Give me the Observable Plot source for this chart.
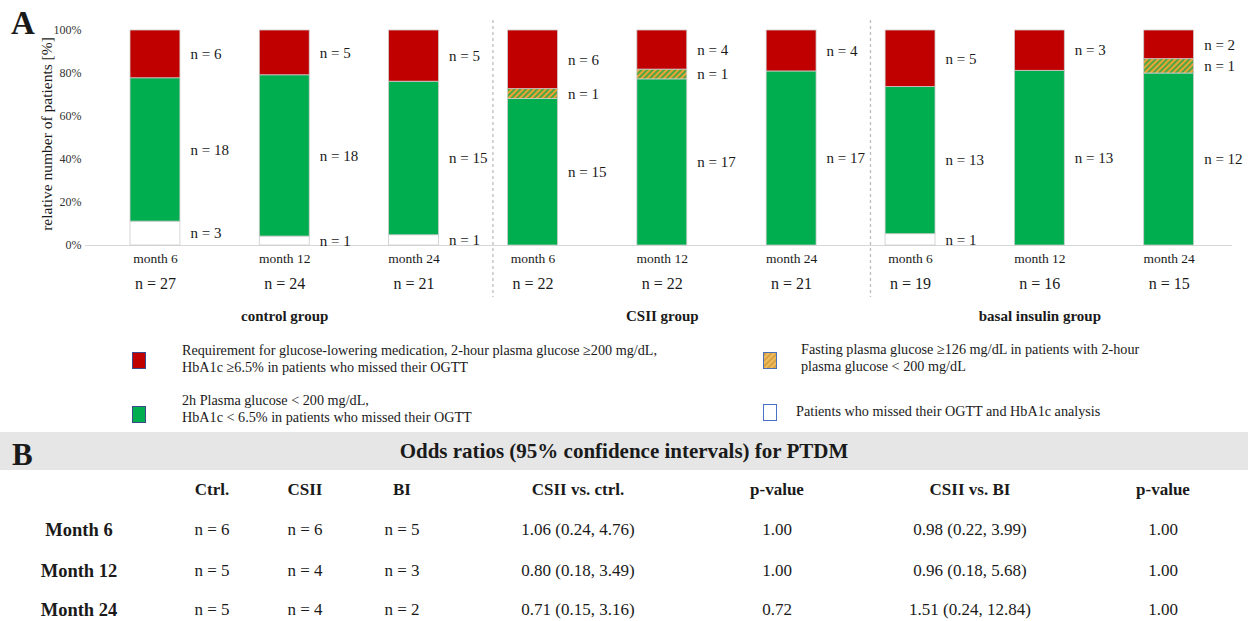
<!DOCTYPE html>
<html><head><meta charset="utf-8">
<script src="https://cdn.jsdelivr.net/npm/d3@7"></script>
<script src="https://cdn.jsdelivr.net/npm/@observablehq/plot@0.6"></script>
<style>
html,body{margin:0;padding:0;background:#fff;}
#root{position:relative;width:1248px;height:621px;overflow:hidden;font-family:"Liberation Serif","Times New Roman",serif;color:#1a1a1a;}
.abs{position:absolute;white-space:nowrap;}
</style></head><body>
<div id="root">
<svg width="0" height="0" style="position:absolute;left:0;top:0"><defs>
<pattern id="hatch" patternUnits="userSpaceOnUse" width="4" height="4" patternTransform="rotate(45)"><rect width="4" height="4" fill="#4ea743"/><rect width="2" height="4" fill="#eda236"/></pattern>
<pattern id="hatchLegend" patternUnits="userSpaceOnUse" width="4" height="4" patternTransform="rotate(45)"><rect width="4" height="4" fill="#d9a043"/><rect width="1.6" height="4" fill="#f0c462"/></pattern>
</defs></svg>
<div id="chart" class="abs" style="left:0;top:0"></div>
<div class="abs" style="left:11px;top:7px;font-size:33px;font-weight:bold;line-height:1;">A</div>
<div id="legend"></div>
<div class="abs" style="left:0;top:432px;width:1248px;height:38px;background:#e6e6e6;"></div>
<div class="abs" style="left:12px;top:439px;font-size:31px;font-weight:bold;line-height:1;">B</div>
<div id="tableTitle" class="abs" style="left:0;width:1248px;top:439px;line-height:24px;font-size:21px;font-weight:bold;text-align:center;"></div>
<div id="table"></div>
</div>
<script>
// ---------- Panel A data ----------
const groups = ["control group", "CSII group", "basal insulin group"];
const months = ["month 6", "month 12", "month 24"];
// bar order: control m6, m12, m24, CSII m6, m12, m24, basal insulin m6, m12, m24
const missedCounts     = [3, 1, 1, 0, 0, 0, 1, 0, 0];
const normalCounts     = [18, 18, 15, 15, 17, 17, 13, 13, 12];
const fastingCounts    = [0, 0, 0, 1, 1, 0, 0, 0, 1];
const medicationCounts = [6, 5, 5, 6, 4, 4, 5, 3, 2];
const totalCounts      = [27, 24, 21, 22, 22, 21, 19, 16, 15];
const yTicks = [0, 20, 40, 60, 80, 100];
const yLabel = "relative number of patients [%]";

const categoryCounts = [missedCounts, normalCounts, fastingCounts, medicationCounts];
const categoryColors = ["#ffffff", "#00ad4f", "url(#hatch)", "#c00000"];

// legend
const legendTexts = [
  ["Requirement for glucose-lowering medication, 2-hour plasma glucose \u2265200 mg/dL,", "HbA1c \u22656.5% in patients who missed their OGTT"],
  ["2h Plasma glucose < 200 mg/dL,", "HbA1c < 6.5% in patients who missed their OGTT"],
  ["Fasting plasma glucose \u2265126 mg/dL in patients with 2-hour", "plasma glucose < 200 mg/dL"],
  ["Patients who missed their OGTT and HbA1c analysis"]
];

// ---------- Panel B data ----------
const tableTitle = "Odds ratios (95% confidence intervals) for PTDM";
const tableHeaders = ["", "Ctrl.", "CSII", "BI", "CSII vs. ctrl.", "p-value", "CSII vs. BI", "p-value"];
const tableRowLabels = ["Month 6", "Month 12", "Month 24"];
const ctrlN = [6, 5, 5];
const csiiN = [6, 4, 4];
const biN = [5, 3, 2];
const orCsiiCtrl = ["1.06 (0.24, 4.76)", "0.80 (0.18, 3.49)", "0.71 (0.15, 3.16)"];
const pCsiiCtrl = ["1.00", "1.00", "0.72"];
const orCsiiBi = ["0.98 (0.22, 3.99)", "0.96 (0.18, 5.68)", "1.51 (0.24, 12.84)"];
const pCsiiBi = ["1.00", "1.00", "1.00"];

// ---------- build panel A ----------
const GROUP_STEP = 2.92, HALF = 0.193;
const bars = [];
groups.forEach((g, gi) => months.forEach((m, mi) => {
  const k = gi * 3 + mi;
  bars.push({k, group: g, month: m, pos: gi * GROUP_STEP + mi, total: totalCounts[k]});
}));
const segs = [];
bars.forEach(b => {
  let cum = 0;
  categoryCounts.forEach((counts, ci) => {
    const n = counts[b.k];
    const h = n / b.total * 100;
    if (n > 0) segs.push({pos: b.pos, n, y1: cum, y2: cum + h, fill: categoryColors[ci]});
    cum += h;
  });
});
const groupCenters = groups.map((g, gi) => ({group: g, pos: gi * GROUP_STEP + 1}));
const separators = groups.slice(1).map((g, i) => (i + 1) * GROUP_STEP - 0.31);

const chart = Plot.plot({
  width: 1248, height: 340,
  marginLeft: 92, marginRight: 16, marginTop: 30, marginBottom: 95,
  x: {domain: [-0.487, 8.33], axis: null},
  y: {domain: [0, 100]},
  color: {type: "identity"},
  style: {fontFamily: '"Liberation Serif", "Times New Roman", serif', color: "#1a1a1a", background: "transparent", overflow: "visible"},
  marks: [
    Plot.ruleX(separators, {x: d => d, stroke: "#bdbdbd", strokeWidth: 1.3, strokeDasharray: "3,3", insetTop: -10, insetBottom: -52}),
    Plot.ruleY([0], {stroke: "#d6d6d6", strokeWidth: 1, insetLeft: -7}),
    Plot.rect(segs, {x1: d => d.pos - HALF, x2: d => d.pos + HALF, y1: "y1", y2: "y2", fill: "fill", stroke: "#cccccc", strokeWidth: 0.8}),
    Plot.axisY({ticks: yTicks, tickFormat: d => d + "%", tickSize: 0, tickPadding: 11, fontSize: 12, label: null, color: "#333"}),
    Plot.text([yLabel], {frameAnchor: "left", dx: -45, dy: -4, rotate: -90, textAnchor: "middle", fontSize: 15.5, fill: "#1a1a1a"}),
    Plot.text(segs, {x: "pos", y: d => (d.y1 + d.y2) / 2, text: d => `n = ${d.n}`, dx: 35, textAnchor: "start", fontSize: 15, fill: "#1a1a1a"}),
    Plot.text(bars, {x: "pos", frameAnchor: "bottom", dy: 17, text: "month", fontSize: 13.5, fill: "#1a1a1a"}),
    Plot.text(bars, {x: "pos", frameAnchor: "bottom", dy: 43, text: d => `n = ${d.total}`, fontSize: 16, fill: "#1a1a1a"}),
    Plot.text(groupCenters, {x: "pos", frameAnchor: "bottom", dy: 75, text: "group", fontSize: 15, fontWeight: "bold", fill: "#1a1a1a"})
  ]
});
document.getElementById("chart").appendChild(chart);

// ---------- legend ----------
const legendLayout = [
  {sx: 132, sy: 352, tx: 182, ty: 341.5, border: "#3d4a8a"},
  {sx: 132, sy: 406, tx: 182, ty: 391.5, border: "#3d4a8a"},
  {sx: 763, sy: 352, tx: 801, ty: 340.5, border: "#4a6fb5"},
  {sx: 763, sy: 404, tx: 796, ty: 402.5, border: "#4a72c4"}
];
const legendSwatchFills = ["#c00000", "#00ad4f", "url(#hatchLegend)", "#ffffff"];
const legendEl = document.getElementById("legend");
legendTexts.forEach((lines, i) => {
  const L = legendLayout[i];
  const sw = document.createElement("div");
  sw.className = "abs";
  sw.style.cssText = `left:${L.sx}px;top:${L.sy}px;width:14px;height:17px;`;
  sw.innerHTML = `<svg width="14" height="17"><rect x="0.5" y="0.5" width="13" height="16" fill="${legendSwatchFills[i]}" stroke="${L.border}" stroke-width="1"/></svg>`;
  legendEl.appendChild(sw);
  const tx = document.createElement("div");
  tx.className = "abs";
  tx.style.cssText = `left:${L.tx}px;top:${L.ty}px;font-size:14.2px;line-height:17px;`;
  tx.innerHTML = lines.join("<br>");
  legendEl.appendChild(tx);
});

// ---------- table ----------
document.getElementById("tableTitle").textContent = tableTitle;
const colCenters = [79, 212, 305, 402, 578, 777, 970, 1163];
const headerY = 490, rowYs = [530, 571, 610];
const tableEl = document.getElementById("table");
function cell(text, cx, cy, size, bold) {
  const d = document.createElement("div");
  d.className = "abs";
  d.style.cssText = `left:${cx - 150}px;width:300px;text-align:center;top:${cy - 11}px;line-height:22px;font-size:${size}px;font-weight:${bold ? "bold" : "normal"};`;
  d.textContent = text;
  tableEl.appendChild(d);
}
tableHeaders.forEach((h, j) => { if (h) cell(h, colCenters[j], headerY, 17, true); });
tableRowLabels.forEach((lab, i) => {
  const vals = [`n = ${ctrlN[i]}`, `n = ${csiiN[i]}`, `n = ${biN[i]}`, orCsiiCtrl[i], pCsiiCtrl[i], orCsiiBi[i], pCsiiBi[i]];
  cell(lab, colCenters[0], rowYs[i], 18.5, true);
  vals.forEach((v, j) => cell(v, colCenters[j + 1], rowYs[i], 17, false));
});
</script>
</body></html>
